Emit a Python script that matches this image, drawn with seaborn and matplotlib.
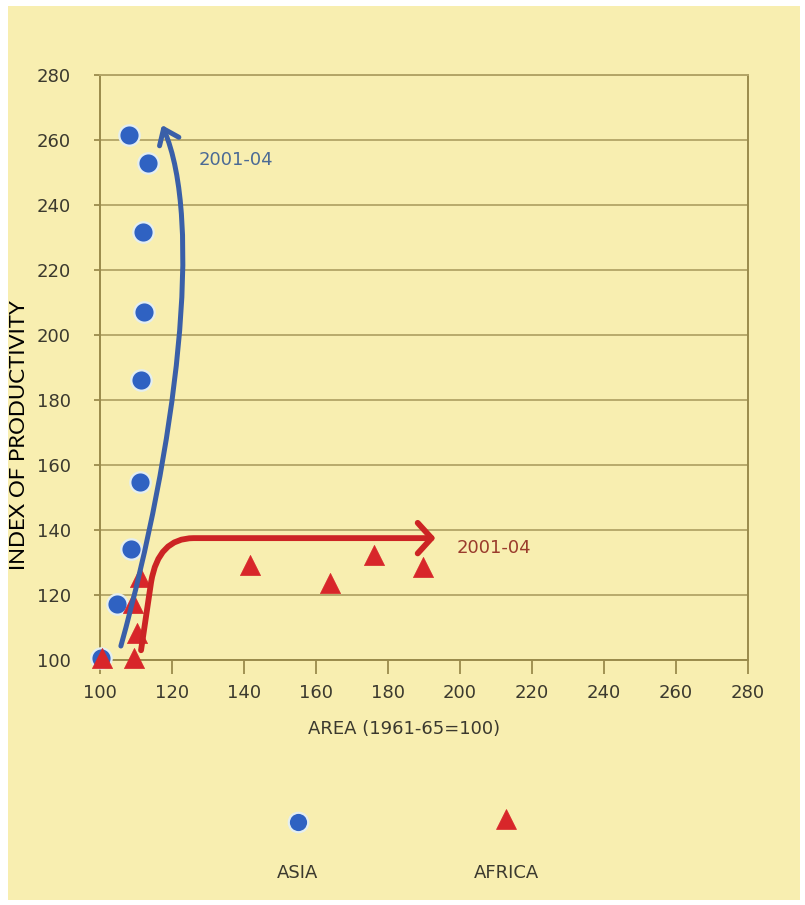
import numpy as np
import pandas as pd
import matplotlib
matplotlib.use("Agg")
import matplotlib.pyplot as plt
import seaborn as sns
from matplotlib.patches import FancyArrowPatch, Rectangle
from matplotlib.path import Path
from matplotlib.lines import Line2D

# ---------------- data ----------------
asia_area = [100.3, 104.7, 108.6, 111.1, 111.4, 112.2, 111.9, 113.3, 108.0]
asia_prod = [100.6, 117.2, 134.2, 154.8, 186.2, 207.0, 231.7, 252.9, 261.5]
africa_area = [100.5, 109.4, 110.2, 109.3, 111.0, 141.6, 164.0, 176.2, 189.8]
africa_prod = [100.6, 100.6, 108.3, 117.5, 125.5, 129.2, 123.7, 132.3, 128.6]
regions = ["ASIA", "AFRICA"]
axis_ticks = [100, 120, 140, 160, 180, 200, 220, 240, 260, 280]
x_label = "AREA (1961-65=100)"
y_label = "INDEX OF PRODUCTIVITY"
end_label = "2001-04"

# trend arrows (data coordinates)
asia_arrow_x = [105.8, 121.0, 129.0, 117.2]
asia_arrow_y = [104.3, 165.0, 235.0, 264.6]
africa_arrow_x = [111.4, 114.2, 116.2, 126.0, 193.2]
africa_arrow_y = [103.0, 124.0, 137.5, 137.5, 137.5]
asia_label_pos = (137.7, 253.8)
africa_label_pos = (209.4, 134.5)

df = pd.DataFrame({
    "area": asia_area + africa_area,
    "productivity": asia_prod + africa_prod,
    "region": [regions[0]] * len(asia_area) + [regions[1]] * len(africa_area),
})

# ---------------- style ----------------
BG = "#F8EEB0"
GRID = "#B3A466"
SPINE = "#9A8B4C"
BLUE = "#2F62C2"
BLUE_ARROW = "#3A5FA8"
RED = "#D8262A"
RED_ARROW = "#CC2424"
TXT = "#3B392E"

fig = plt.figure(figsize=(8.05, 9.05), dpi=100)
fig.patch.set_facecolor("white")
fig.patches.append(Rectangle((8 / 805, 5 / 905), 792 / 805, 894 / 905,
                             transform=fig.transFigure, facecolor=BG,
                             edgecolor="none", zorder=-10))

ax = fig.add_axes([100 / 805, 1 - 660 / 905, 648 / 805, 585 / 905])
ax.set_facecolor(BG)

sns.scatterplot(data=df[df.region == "ASIA"], x="area", y="productivity",
                color=BLUE, marker="o", s=215, edgecolor="#E4EEF0",
                linewidth=1.6, ax=ax, zorder=3, clip_on=False, legend=False)
sns.scatterplot(data=df[df.region == "AFRICA"], x="area", y="productivity",
                color=RED, marker="^", s=210, edgecolor=RED,
                linewidth=0.5, ax=ax, zorder=4, clip_on=False, legend=False)

# arrows
blue_path = Path(list(zip(asia_arrow_x, asia_arrow_y)),
                 [Path.MOVETO, Path.CURVE4, Path.CURVE4, Path.CURVE4])
ax.add_patch(FancyArrowPatch(path=blue_path,
                             arrowstyle="->,head_length=0.5,head_width=0.38",
                             mutation_scale=20, lw=3.6, color=BLUE_ARROW,
                             transform=ax.transData, zorder=5, clip_on=False))
red_path = Path(list(zip(africa_arrow_x, africa_arrow_y)),
                [Path.MOVETO, Path.LINETO, Path.CURVE3, Path.CURVE3, Path.LINETO])
ax.add_patch(FancyArrowPatch(path=red_path,
                             arrowstyle="->,head_length=0.5,head_width=0.55",
                             mutation_scale=20, lw=4.2, color=RED_ARROW,
                             transform=ax.transData, zorder=6, clip_on=False))

ax.text(*asia_label_pos, end_label, color="#4B6A95", fontsize=13,
        ha="center", va="center")
ax.text(*africa_label_pos, end_label, color="#9A3B2C", fontsize=13,
        ha="center", va="center")

# axes
ax.set_xlim(100, 280)
ax.set_ylim(100, 280)
ax.set_xticks(axis_ticks)
ax.set_yticks(axis_ticks)
ax.yaxis.grid(True, color=GRID, lw=1.3)
ax.xaxis.grid(False)
ax.set_axisbelow(True)
for side, sp in ax.spines.items():
    sp.set_color(SPINE)
    sp.set_linewidth(1.4)
ax.spines["top"].set_color(GRID)
ax.tick_params(axis="x", direction="out", length=10, width=1.3, color=SPINE,
               pad=7, labelsize=13, labelcolor=TXT)
ax.tick_params(axis="y", direction="out", length=4, width=1.3, color=SPINE,
               pad=17, labelsize=13, labelcolor=TXT)

ax.set_xlabel(x_label, fontsize=13, color=TXT)
ax.xaxis.set_label_coords(0.47, -0.103)
ax.set_ylabel("")
fig.text(19 / 805, 1 - 435 / 905, y_label, rotation=90, fontsize=16,
         color="black", family="Lato", ha="center", va="center")

# legend (markers above labels)
fig.add_artist(Line2D([298 / 805], [1 - 822 / 905], marker="o", ms=14,
                      color=BLUE, mec="#E4EEF0", mew=1.6, ls="none",
                      transform=fig.transFigure))
fig.add_artist(Line2D([506 / 805], [1 - 819 / 905], marker="^", ms=14,
                      color=RED, mec=RED, mew=0.5, ls="none",
                      transform=fig.transFigure))
fig.text(298 / 805, 1 - 873 / 905, regions[0], fontsize=13, color=TXT,
         ha="center", va="center")
fig.text(506 / 805, 1 - 873 / 905, regions[1], fontsize=13, color=TXT,
         ha="center", va="center")

fig.savefig("out.png", dpi=100, facecolor=fig.get_facecolor())
